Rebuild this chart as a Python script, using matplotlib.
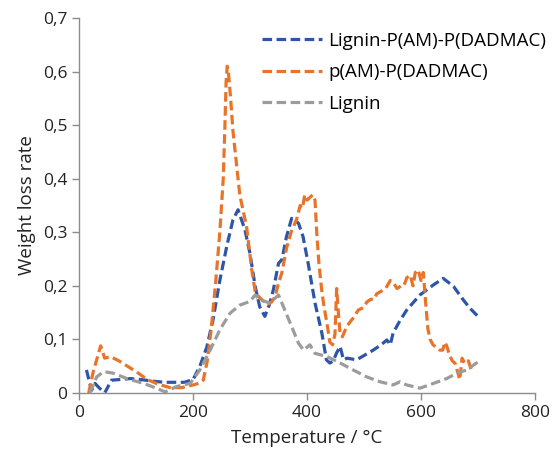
import matplotlib
matplotlib.use("Agg")
import matplotlib.pyplot as plt
from matplotlib.ticker import FuncFormatter, MultipleLocator

plt.rcParams["font.family"] = ["Open Sans", "DejaVu Sans"]

# ── data ──────────────────────────────────────────────────────
lig_pam_x = [13, 22, 28, 35, 45, 57, 70, 90, 110, 130,
             150, 170, 185, 200, 212, 224, 235, 247, 259, 270,
             279, 291, 300, 309, 317, 326, 334, 341, 350, 356,
             364, 373, 385, 393, 402, 414, 426, 434, 440, 446,
             452, 458, 464, 470, 487, 500, 516, 530, 540, 546,
             551, 563, 575, 598, 622, 639, 657, 674, 686, 700]
lig_pam_y = [0.043, 0.005, 0.018, 0.01, 0.0, 0.024, 0.025, 0.027, 0.025, 0.022,
             0.02, 0.02, 0.02, 0.025, 0.05, 0.085, 0.136, 0.21, 0.273, 0.323,
             0.342, 0.305, 0.26, 0.199, 0.161, 0.143, 0.165, 0.193, 0.242, 0.249,
             0.292, 0.326, 0.317, 0.292, 0.242, 0.168, 0.112, 0.062, 0.056, 0.06,
             0.075, 0.087, 0.062, 0.065, 0.062, 0.07, 0.08, 0.09, 0.099, 0.09,
             0.112, 0.135, 0.155, 0.183, 0.202, 0.214, 0.199, 0.174, 0.158, 0.143]

pam_x = [17, 25, 38, 45, 55, 70, 85, 100, 120, 140,
         160, 180, 200, 210, 218, 225, 232, 240, 247, 253,
         256, 258, 260, 262, 266, 270, 276, 282, 288, 294,
         303, 309, 315, 320, 331, 338, 344, 350, 356, 364,
         372, 382, 388, 392, 396, 400, 405, 410, 414, 417,
         421, 426, 430, 435, 440, 445, 449, 452, 455, 458,
         462, 470, 481, 490, 500, 505, 512, 518, 522, 530,
         538, 546, 552, 558, 565, 570, 575, 581, 586, 590,
         595, 600, 604, 608, 612, 616, 621, 627, 633, 638,
         642, 646, 650, 655, 660, 664, 668, 672, 677, 683,
         689]
pam_y = [0.0, 0.04, 0.088, 0.065, 0.068, 0.06, 0.05, 0.04, 0.025, 0.016,
         0.01, 0.01, 0.015, 0.018, 0.024, 0.06, 0.12, 0.21, 0.30, 0.40,
         0.50, 0.58, 0.61, 0.60, 0.55, 0.49, 0.43, 0.37, 0.34, 0.31,
         0.23, 0.19, 0.18, 0.175, 0.165, 0.17, 0.18, 0.205, 0.225, 0.27,
         0.30, 0.325, 0.35, 0.345, 0.37, 0.36, 0.365, 0.37, 0.36, 0.30,
         0.24, 0.19, 0.16, 0.13, 0.095, 0.09, 0.11, 0.195, 0.15, 0.11,
         0.105, 0.125, 0.14, 0.155, 0.16, 0.17, 0.175, 0.175, 0.185, 0.19,
         0.195, 0.21, 0.205, 0.195, 0.2, 0.2, 0.215, 0.22, 0.2, 0.225,
         0.23, 0.21, 0.225, 0.17, 0.12, 0.10, 0.09, 0.085, 0.08, 0.08,
         0.095, 0.085, 0.07, 0.06, 0.055, 0.04, 0.025, 0.065, 0.055, 0.06,
         0.04]

lignin_x = [19, 31, 43, 60, 84, 113, 136, 151, 171, 195,
            212, 230, 247, 265, 282, 300, 309, 317, 335, 350,
            361, 373, 385, 394, 405, 414, 435, 458, 481, 505,
            528, 551, 563, 575, 598, 622, 645, 663, 680, 700]
lignin_y = [0.0, 0.03, 0.04, 0.037, 0.027, 0.018, 0.009, 0.002, 0.012, 0.018,
            0.043, 0.08, 0.118, 0.149, 0.164, 0.171, 0.183, 0.174, 0.168, 0.183,
            0.155, 0.124, 0.093, 0.08, 0.09, 0.074, 0.068, 0.056, 0.043, 0.03,
            0.021, 0.015, 0.021, 0.015, 0.009, 0.018, 0.027, 0.037, 0.043, 0.058]

series = [
    ("Lignin-P(AM)-P(DADMAC)", lig_pam_x, lig_pam_y, "#2F55A8"),
    ("p(AM)-P(DADMAC)", pam_x, pam_y, "#E8742A"),
    ("Lignin", lignin_x, lignin_y, "#9C9C9C"),
]

fig = plt.figure(figsize=(5.53, 4.58), dpi=100)
ax = fig.add_axes([0.1429, 0.1419, 0.8246, 0.8188])

for label, xs, ys, col in series:
    ln, = ax.plot(xs, ys, color=col, lw=2.3, label=label)
    ln.set_dashes((3, 1.4))

ax.set_xlim(0, 800)
ax.set_ylim(0, 0.7)
ax.xaxis.set_major_locator(MultipleLocator(200))
ax.yaxis.set_major_locator(MultipleLocator(0.1))
ax.yaxis.set_major_formatter(FuncFormatter(
    lambda v, p: "0" if abs(v) < 1e-9 else f"{v:.1f}".replace(".", ",")))

for side in ["top", "right"]:
    ax.spines[side].set_visible(False)
for side in ["left", "bottom"]:
    ax.spines[side].set_color("#8C8C8C")
    ax.spines[side].set_linewidth(1.0)
ax.tick_params(colors="#8C8C8C", labelcolor="#222222", labelsize=12.5,
               length=5, width=1.0, direction="out")

ax.set_xlabel("Temperature / °C", fontsize=13.5, color="#222222", labelpad=6)
ax.set_ylabel("Weight loss rate", fontsize=13.5, color="#222222", labelpad=5)

ax.legend(loc="upper left", bbox_to_anchor=(0.3645, 1.008), frameon=False,
          fontsize=13.5, handlelength=3.2, handletextpad=0.32, labelspacing=0.72)

plt.savefig("out.png", dpi=100)
